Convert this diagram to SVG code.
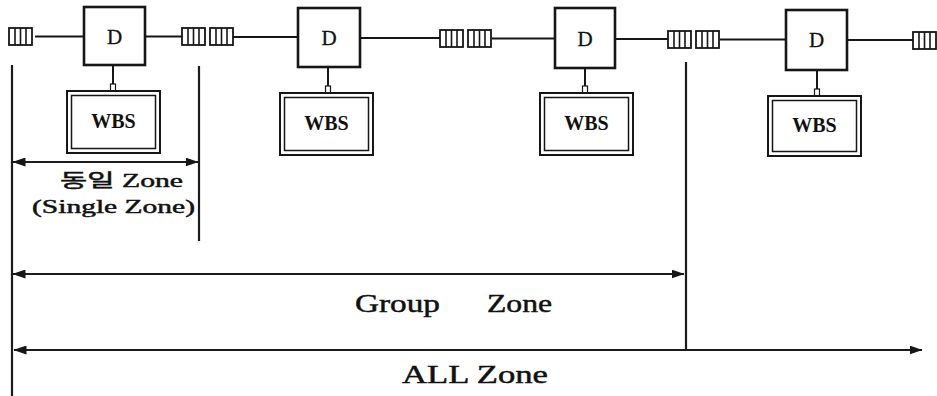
<svg xmlns="http://www.w3.org/2000/svg" width="937" height="396" viewBox="0 0 937 396">
  <style>
    .box{fill:#fff;stroke:#161616;stroke-width:2.6}
    .wo{fill:#fff;stroke:#161616;stroke-width:2}
    .wi{fill:none;stroke:#161616;stroke-width:1.5}
    .ln{stroke:#161616;stroke-width:2;fill:none}
    .stub{fill:#fff;stroke:#161616;stroke-width:1.2}
    .zl{stroke:#1c1c1c;stroke-width:2.2;fill:none}
    .arr{stroke:#1c1c1c;stroke-width:2.2;fill:none;marker-start:url(#ah);marker-end:url(#ah)}
    .t{font-family:"Liberation Serif","Noto Sans CJK KR",serif;fill:#111}
    .zt{stroke:#111;stroke-width:0.45}
    .dl{font-size:21px;text-anchor:middle;stroke:#111;stroke-width:0.3}
    .wl{font-size:20px;font-weight:bold;text-anchor:middle}
  </style>
  <defs>
    <!-- line terminal: small box split into four cells -->
    <g id="term">
      <rect x="0" y="0" width="23" height="17" fill="#fff" stroke="#161616" stroke-width="1.8"/>
      <path d="M6 0V17M11.5 0V17M17 0V17" stroke="#161616" stroke-width="1.6"/>
    </g>
    <marker id="ah" viewBox="0 0 13 9" refX="12.5" refY="4.5" markerWidth="13" markerHeight="9" markerUnits="userSpaceOnUse" orient="auto-start-reverse">
      <path d="M0 0L13 4.5L0 9z" fill="#161616"/>
    </marker>
  </defs>
  <rect width="937" height="396" fill="#fff"/>

  <!-- bus wiring and zone dimension lines -->
  <g id="connectors">
    <path class="ln" d="M35 36.5H84M145 36.5H182M233 37H298M360 38H440M492 38.5H555M615 39H668M720 39.5H786M847 40H913"/>
    <path class="ln" d="M113 65V84M328 67V86M585 68V86M817 70V89" stroke-width="2.4"/>
    <path class="zl" d="M12 65V396M199 66V241M686 62V350"/>
    <path class="arr" d="M13 162H198"/>
    <path class="arr" d="M13 274H684"/>
    <path class="arr" d="M14 350H922"/>
  </g>

  <!-- terminals -->
  <g id="t1"><use href="#term" x="9" y="28"/></g>
  <g id="t2"><use href="#term" x="182" y="28"/></g>
  <g id="t3"><use href="#term" x="210" y="28"/></g>
  <g id="t4"><use href="#term" x="440" y="30"/></g>
  <g id="t5"><use href="#term" x="468" y="30"/></g>
  <g id="t6"><use href="#term" x="668" y="31"/></g>
  <g id="t7"><use href="#term" x="696" y="31"/></g>
  <g id="t8"><use href="#term" x="913" y="32"/></g>

  <!-- D units -->
  <g id="d1"><rect class="box" x="84" y="7" width="61" height="58"/><text class="t dl" x="114.5" y="44">D</text></g>
  <g id="d2"><rect class="box" x="298" y="8" width="62" height="59"/><text class="t dl" x="329" y="45">D</text></g>
  <g id="d3"><rect class="box" x="555" y="8" width="60" height="60"/><text class="t dl" x="585" y="46">D</text></g>
  <g id="d4"><rect class="box" x="786" y="10" width="61" height="60"/><text class="t dl" x="816.5" y="47">D</text></g>

  <!-- WBS units (double border) -->
  <g id="wbs1">
    <rect class="stub" x="110.5" y="84" width="5" height="7"/>
    <rect class="wo" x="67" y="91" width="93" height="62"/>
    <rect class="wi" x="71.5" y="95.5" width="84" height="53"/>
    <text class="t wl" x="113.5" y="128">WBS</text>
  </g>
  <g id="wbs2">
    <rect class="stub" x="325.5" y="86" width="5" height="7"/>
    <rect class="wo" x="280" y="93" width="93" height="62"/>
    <rect class="wi" x="284.5" y="97.5" width="84" height="53"/>
    <text class="t wl" x="326.5" y="130">WBS</text>
  </g>
  <g id="wbs3">
    <rect class="stub" x="582.5" y="86" width="5" height="7"/>
    <rect class="wo" x="540" y="93" width="93" height="62"/>
    <rect class="wi" x="544.5" y="97.5" width="84" height="53"/>
    <text class="t wl" x="586.5" y="130">WBS</text>
  </g>
  <g id="wbs4">
    <rect class="stub" x="814.5" y="89" width="5" height="7"/>
    <rect class="wo" x="768" y="96" width="93" height="60"/>
    <rect class="wi" x="772.5" y="100.5" width="84" height="51"/>
    <text class="t wl" x="814.5" y="132">WBS</text>
  </g>

  <!-- zone labels -->
  <g id="label-single">
    <text class="t zt" x="60" y="187" font-size="18" textLength="123" lengthAdjust="spacingAndGlyphs">동일 Zone</text>
    <text class="t zt" x="32" y="213" font-size="18" textLength="163" lengthAdjust="spacingAndGlyphs">(Single Zone)</text>
  </g>
  <g id="label-group">
    <text class="t zt" x="355" y="312" font-size="25" textLength="85" lengthAdjust="spacingAndGlyphs">Group</text>
    <text class="t zt" x="487" y="312" font-size="25" textLength="65" lengthAdjust="spacingAndGlyphs">Zone</text>
  </g>
  <g id="label-all">
    <text class="t zt" x="402" y="383" font-size="25" textLength="146" lengthAdjust="spacingAndGlyphs">ALL Zone</text>
  </g>
</svg>
